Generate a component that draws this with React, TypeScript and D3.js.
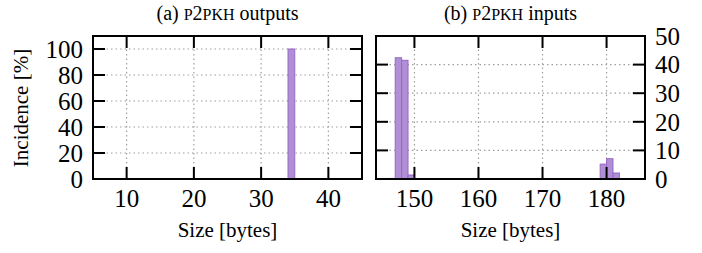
import * as d3 from "d3";

const width = 702;
const height = 253;

// (a) P2PKH outputs
const outputSizes = [34];
const outputPct = [100];

// (b) P2PKH inputs
const inputSizes = [146, 147, 148, 149, 179, 180, 181];
const inputPct = [0.2, 42.4, 41.5, 1.4, 5.2, 7.1, 2.1];

const outputXTicks = [10, 20, 30, 40];
const outputYTicks = [0, 20, 40, 60, 80, 100];
const inputXTicks = [150, 160, 170, 180];
const inputYTicks = [0, 10, 20, 30, 40, 50];

const font = `"Liberation Serif", "Times New Roman", serif`;
const barFill = "#b08fd6";
const barStroke = "#9568c6";
const tickLen = 12;

type PanelProps = {
  left: number;
  right: number;
  xDomain: [number, number];
  yDomain: [number, number];
  xTicks: number[];
  yTicks: number[];
  sizes: number[];
  values: number[];
  yLabelSide: "left" | "right";
  tag: string;
  what: string;
};

const top = 36;
const bottom = 179;

const Panel = ({ left, right, xDomain, yDomain, xTicks, yTicks, sizes, values, yLabelSide, tag, what }: PanelProps) => {
  const x = d3.scaleLinear().domain(xDomain).range([left, right]);
  const y = d3.scaleLinear().domain(yDomain).range([bottom, top]);
  const mid = (left + right) / 2;

  return (
    <g>
      {/* grid */}
      {yTicks.filter(t => t > yDomain[0] && y(t) > top + 1).map(t => (
        <line key={"gy" + t} x1={left} x2={right} y1={y(t)} y2={y(t)} stroke="#a0a0a0" strokeWidth={1.2} strokeDasharray="1.5,3" />
      ))}
      {xTicks.map(t => (
        <line key={"gx" + t} x1={x(t)} x2={x(t)} y1={top} y2={bottom} stroke="#a0a0a0" strokeWidth={1.2} strokeDasharray="1.5,3" />
      ))}

      {/* bars */}
      {sizes.map((s, i) => (
        <rect key={"b" + s} x={x(s)} width={x(s + 1) - x(s)} y={y(values[i])} height={y(0) - y(values[i])}
          fill={barFill} stroke={barStroke} strokeWidth={1} />
      ))}

      {/* mirrored ticks */}
      {yTicks.map(t => (
        <g key={"ty" + t}>
          <line x1={left} x2={left + tickLen} y1={y(t)} y2={y(t)} stroke="#000" strokeWidth={2} />
          <line x1={right} x2={right - tickLen} y1={y(t)} y2={y(t)} stroke="#000" strokeWidth={2} />
          <text x={yLabelSide === "left" ? left - 10 : right + 10} y={y(t)} dy="0.35em"
            textAnchor={yLabelSide === "left" ? "end" : "start"} style={{ fontSize: 25, fontFamily: font }}>{t}</text>
        </g>
      ))}
      {xTicks.map(t => (
        <g key={"tx" + t}>
          <line x1={x(t)} x2={x(t)} y1={bottom} y2={bottom - tickLen} stroke="#000" strokeWidth={2} />
          <line x1={x(t)} x2={x(t)} y1={top} y2={top + tickLen} stroke="#000" strokeWidth={2} />
          <text x={x(t)} y={207} textAnchor="middle" style={{ fontSize: 25, fontFamily: font }}>{t}</text>
        </g>
      ))}

      <rect x={left} y={top} width={right - left} height={bottom - top} fill="none" stroke="#000" strokeWidth={2} />

      <text x={mid} y={20} textAnchor="middle" style={{ fontSize: 20, fontFamily: font }}>
        {tag} <tspan style={{ fontSize: 16 }}>P</tspan>2<tspan style={{ fontSize: 16 }}>PKH</tspan> {what}
      </text>
      <text x={mid} y={237} textAnchor="middle" style={{ fontSize: 21, fontFamily: font }}>Size [bytes]</text>
    </g>
  );
};

const App = () => {
  return (
    <svg width={width} height={height} viewBox={`0 0 ${width} ${height}`}
      style={{ position: "absolute", left: 0, top: 0, background: "#fff" }}>
      <Panel left={93} right={362} xDomain={[5, 45]} yDomain={[0, 110]}
        xTicks={outputXTicks} yTicks={outputYTicks} sizes={outputSizes} values={outputPct}
        yLabelSide="left" tag="(a)" what="outputs" />
      <Panel left={376} right={645} xDomain={[144, 186]} yDomain={[0, 50]}
        xTicks={inputXTicks} yTicks={inputYTicks} sizes={inputSizes} values={inputPct}
        yLabelSide="right" tag="(b)" what="inputs" />
      <text transform="translate(28,108) rotate(-90)" textAnchor="middle" style={{ fontSize: 21, fontFamily: font }}>Incidence [%]</text>
    </svg>
  );
};

export default App;
